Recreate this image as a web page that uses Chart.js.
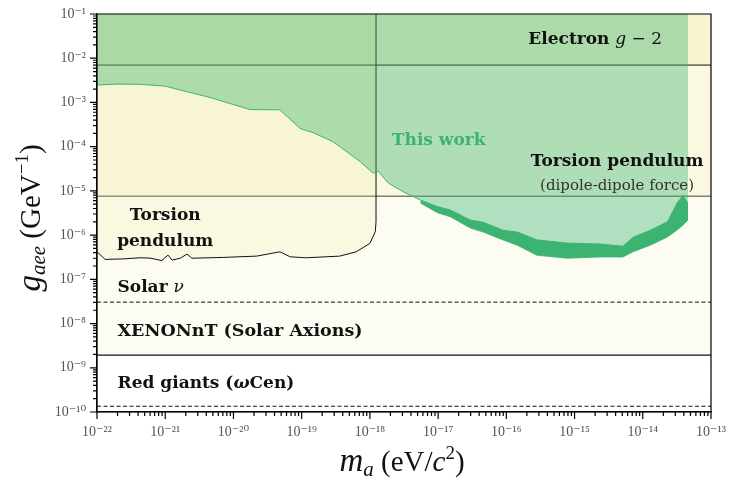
<!DOCTYPE html>
<html>
<head>
<meta charset="utf-8">
<script src="https://cdn.jsdelivr.net/npm/chart.js@4.4.1/dist/chart.umd.min.js"></script>
<style>
  html, body { margin: 0; padding: 0; background: #fff; }
  #wrap { width: 729px; height: 479px; position: relative; }
</style>
</head>
<body>
<div id="wrap"><canvas id="limits"></canvas></div>
<script>
// axis ranges (decades)
const massDecades = [-22, -21, -20, -19, -18, -17, -16, -15, -14, -13];
const couplingDecades = [-10, -9, -8, -7, -6, -5, -4, -3, -2, -1];

// flat bounds on g_aee
const electronG2 = 7.0e-3;
const dipoleTorsion = 7.6e-6;
const solarNu = 3.05e-8;
const xenonNT = 1.93e-9;
const redGiants = 1.35e-10;

// torsion pendulum (monopole-dipole) bound
const torsionMass = [1.0e-22, 1.32e-22, 2.45e-22, 4.27e-22, 6.0e-22, 8.9e-22, 1.1e-21, 1.26e-21, 1.66e-21,
  2.09e-21, 2.46e-21, 7.1e-21, 2.19e-20, 4.8e-20, 6.8e-20, 1.17e-19, 3.6e-19, 6.3e-19, 1.0e-18, 1.2e-18, 1.23e-18, 1.23e-18];
const torsionG = [4.19e-7, 2.82e-7, 2.9e-7, 3.07e-7, 3.02e-7, 2.65e-7, 3.53e-7, 2.72e-7, 3.0e-7,
  3.72e-7, 3.0e-7, 3.13e-7, 3.35e-7, 4.19e-7, 3.23e-7, 3.07e-7, 3.35e-7, 4.19e-7, 6.5e-7, 1.19e-6, 2.0e-6, 1e-1];

// this work: upper edge of the excluded region
const workMass = [1.0e-22, 2.0e-22, 4.27e-22, 1.0e-21, 1.66e-21, 4.6e-21, 1.74e-20, 4.8e-20, 9.5e-20, 1.48e-19,
  2.9e-19, 7.2e-19, 1.12e-18, 1.32e-18, 1.86e-18, 3.1e-18, 5.5e-18, 9.8e-18, 1.51e-17, 2.95e-17, 4.6e-17,
  8.9e-17, 1.45e-16, 2.8e-16, 7.8e-16, 2.4e-15, 5.1e-15, 7.2e-15, 1.29e-14, 2.3e-14, 3.16e-14, 3.9e-14, 4.6e-14];
const workUpper = [2.48e-3, 2.6e-3, 2.57e-3, 2.34e-3, 1.9e-3, 1.29e-3, 6.9e-4, 6.8e-4, 2.57e-4, 2.07e-4,
  1.29e-4, 4.6e-5, 2.5e-5, 2.8e-5, 1.5e-5, 9.5e-6, 6.2e-6, 4.4e-6, 3.7e-6, 2.2e-6, 1.95e-6,
  1.29e-6, 1.17e-6, 7.8e-7, 6.6e-7, 6.3e-7, 5.6e-7, 8.9e-7, 1.29e-6, 2.0e-6, 5.2e-6, 7.9e-6, 5.2e-6];
// lower edge of the noise band (from 5.5e-18 on)
const bandStart = 16;
const workLower = [5.3e-6, 3.2e-6, 2.6e-6, 1.45e-6, 1.17e-6,
  7.8e-7, 5.9e-7, 3.5e-7, 3.0e-7, 3.2e-7, 3.2e-7, 4.2e-7, 5.9e-7, 9.1e-7, 1.29e-6, 1.7e-6, 2.2e-6];

// region labels: anchor mass, anchor coupling
const labelText = ['Electron', 'This work', 'Torsion pendulum', '(dipole-dipole force)', 'Torsion', 'pendulum',
  'Solar', 'XENONnT (Solar Axions)', 'Red giants'];
const labelMass = [2.1e-16, 2.1e-18, 4.2e-15, 4.2e-15, 1.0e-21, 1.0e-21, 2.0e-22, 2.0e-22, 2.0e-22];
const labelG = [2.6e-2, 1.4e-4, 4.7e-5, 1.3e-5, 2.8e-6, 7.2e-7, 6.6e-8, 6.8e-9, 4.3e-10];

const xMin = Math.pow(10, massDecades[0]), xMax = Math.pow(10, massDecades[massDecades.length - 1]);
const yMin = Math.pow(10, couplingDecades[0]), yMax = Math.pow(10, couplingDecades[couplingDecades.length - 1]);

const GREEN = '#3cb371';
const SERIF = '"DejaVu Serif", serif';
const TICKFONT = '"Liberation Serif", "DejaVu Serif", serif';

const flat = v => [{x: xMin, y: v}, {x: xMax, y: v}];
const zip = (xs, ys) => xs.map((x, i) => ({x: x, y: ys[i]}));

const supMap = {'-': '\u207b', '0': '\u2070', '1': '\u00b9', '2': '\u00b2', '3': '\u00b3', '4': '\u2074',
  '5': '\u2075', '6': '\u2076', '7': '\u2077', '8': '\u2078', '9': '\u2079'};
const pow10Label = e => '10' + String(e).split('').map(c => supMap[c]).join('');

function logTicks(decades) {
  const out = [];
  decades.forEach((e, i) => {
    const base = Math.pow(10, e);
    if (i === decades.length - 1) { out.push({value: base}); return; }
    for (let k = 1; k <= 9; k++) out.push({value: k * base});
  });
  return out;
}
function decadeOf(v) {
  const e = Math.round(Math.log10(v));
  return Math.abs(Math.log10(v) - e) < 1e-6 ? e : null;
}

const line = (data, extra) => Object.assign({
  data: data, borderColor: '#111', borderWidth: 1, pointRadius: 0, tension: 0, fill: false
}, extra);

const datasets = [
  line(zip(workMass.slice(bandStart), workLower), {label: 'band', borderColor: GREEN, borderWidth: 0.8,
    fill: {target: 1, above: GREEN, below: GREEN}, order: 1}),
  line(zip(workMass.slice(bandStart), workUpper.slice(bandStart)), {label: 'band top', borderWidth: 0, order: 2}),
  line(zip(workMass, workUpper), {label: 'This work', borderColor: GREEN, borderWidth: 1,
    fill: 'end', backgroundColor: 'rgba(60,179,113,0.40)', order: 3}),
  line(zip(torsionMass, torsionG), {label: 'Torsion pendulum', borderColor: '#111',
    fill: 'end', backgroundColor: 'rgba(240,230,140,0.17)', order: 4}),
  line(flat(electronG2), {label: 'Electron g-2', borderColor: '#111',
    fill: 'end', backgroundColor: 'rgba(240,230,140,0.21)', order: 5}),
  line(flat(dipoleTorsion), {label: 'Torsion dipole', borderColor: '#444',
    fill: 'end', backgroundColor: 'rgba(240,230,140,0.16)', order: 6}),
  line(flat(solarNu), {label: 'Solar nu', borderDash: [4, 2.5], order: 7}),
  line(flat(redGiants), {label: 'Red giants', borderDash: [4, 2.5], order: 8}),
  line(flat(xenonNT), {label: 'XENONnT', borderWidth: 1.1,
    fill: 'end', backgroundColor: 'rgba(240,230,140,0.11)', order: 9})
];

function drawRuns(ctx, runs, x, y, align) {
  let w = 0;
  runs.forEach(r => { ctx.font = r.f; r.w = ctx.measureText(r.t).width; w += r.w; });
  let cx = align === 'center' ? x - w / 2 : align === 'right' ? x - w : x;
  runs.forEach(r => {
    ctx.font = r.f;
    ctx.fillStyle = r.c || '#111';
    ctx.fillText(r.t, cx, y + (r.dy || 0));
    cx += r.w;
  });
}

const overlay = {
  id: 'overlay',
  afterDatasetsDraw(chart) {
    const ctx = chart.ctx, xs = chart.scales.x, ys = chart.scales.y;
    const a = chart.chartArea;
    const px = i => xs.getPixelForValue(labelMass[i]);
    const py = i => ys.getPixelForValue(labelG[i]);
    const B = 'bold 17px ' + SERIF, R = '17px ' + SERIF, I = 'italic 17px ' + SERIF;
    ctx.save();
    ctx.textBaseline = 'middle';
    drawRuns(ctx, [{t: labelText[0] + ' ', f: B}, {t: 'g', f: I}, {t: ' \u2212 2', f: R}], px(0), py(0), 'left');
    drawRuns(ctx, [{t: labelText[1], f: B, c: GREEN}], px(1), py(1), 'left');
    drawRuns(ctx, [{t: labelText[2], f: B}], px(2), py(2), 'center');
    drawRuns(ctx, [{t: labelText[3], f: '15px ' + SERIF, c: '#333'}], px(3), py(3), 'center');
    drawRuns(ctx, [{t: labelText[4], f: B}], px(4), py(4), 'center');
    drawRuns(ctx, [{t: labelText[5], f: B}], px(5), py(5), 'center');
    drawRuns(ctx, [{t: labelText[6] + ' ', f: B}, {t: '\u03bd', f: I}], px(6), py(6), 'left');
    drawRuns(ctx, [{t: labelText[7], f: 'bold 17.5px ' + SERIF}], px(7), py(7), 'left');
    drawRuns(ctx, [{t: labelText[8] + ' (', f: B}, {t: '\u03c9', f: 'italic bold 17px ' + SERIF},
      {t: 'Cen)', f: B}], px(8), py(8), 'left');

    // frame and tick marks (long on decades, short in between)
    ctx.strokeStyle = '#000';
    ctx.lineWidth = 1.2;
    ctx.setLineDash([]);
    ctx.beginPath();
    ctx.rect(a.left, a.top, a.right - a.left, a.bottom - a.top);
    logTicks(massDecades).forEach(t => {
      const p = xs.getPixelForValue(t.value);
      const len = decadeOf(t.value) === null ? 4 : 7;
      ctx.moveTo(p, a.bottom);
      ctx.lineTo(p, a.bottom + len);
    });
    logTicks(couplingDecades).forEach(t => {
      const p = ys.getPixelForValue(t.value);
      const len = decadeOf(t.value) === null ? 4 : 7;
      ctx.moveTo(a.left, p);
      ctx.lineTo(a.left - len, p);
    });
    ctx.stroke();
    ctx.restore();
  },
  afterDraw(chart) {
    const ctx = chart.ctx;
    ctx.save();
    // axis titles
    ctx.textBaseline = 'alphabetic';
    const T = '"Liberation Serif", serif';
    drawRuns(ctx, [
      {t: 'm', f: 'italic 33px ' + T}, {t: 'a', f: 'italic 21px ' + T, dy: 5},
      {t: ' (eV/', f: '29px ' + T}, {t: 'c', f: 'italic 29px ' + T},
      {t: '2', f: '19px ' + T, dy: -12}, {t: ')', f: '29px ' + T}
    ], 402, 471, 'center');

    ctx.translate(40, 218);
    ctx.rotate(-Math.PI / 2);
    drawRuns(ctx, [
      {t: 'g', f: 'italic 33px ' + T}, {t: 'aee', f: 'italic 21px ' + T, dy: 5},
      {t: ' (GeV', f: '29px ' + T}, {t: '\u22121', f: '19px ' + T, dy: -12}, {t: ')', f: '29px ' + T}
    ], 0, 0, 'center');
    ctx.restore();
  }
};

// tick marks themselves are stroked by the overlay; the grid only reserves their room
const axisCommon = {
  type: 'logarithmic',
  grid: {display: true, drawOnChartArea: false, drawTicks: true, tickLength: 9, color: 'rgba(0,0,0,0)'},
  border: {display: true, color: '#111', width: 1.2},
  ticks: {
    autoSkip: false, source: 'labels', maxRotation: 0, color: '#555', padding: 3,
    font: {family: TICKFONT, size: 14},
    callback: v => { const e = decadeOf(v); return e === null ? '' : pow10Label(e); }
  }
};

new Chart(document.getElementById('limits').getContext('2d'), {
  type: 'line',
  data: {datasets: datasets},
  plugins: [overlay],
  options: {
    responsive: true,
    maintainAspectRatio: false,
    devicePixelRatio: 1,
    animation: false,
    events: [],
    layout: {padding: {left: 0, top: 14, right: 18, bottom: 0}},
    plugins: {legend: {display: false}, tooltip: {enabled: false}},
    scales: {
      x: Object.assign({}, axisCommon, {
        min: xMin, max: xMax,
        afterBuildTicks: s => { s.ticks = logTicks(massDecades); },
        afterFit: s => { s.height = 67; }
      }),
      y: Object.assign({}, axisCommon, {
        min: yMin, max: yMax,
        afterBuildTicks: s => { s.ticks = logTicks(couplingDecades); },
        afterFit: s => { s.width = 97; },
        grid: Object.assign({}, axisCommon.grid, {tickLength: 8}),
        ticks: Object.assign({}, axisCommon.ticks, {padding: 3})
      })
    }
  }
});
</script>
</body>
</html>
